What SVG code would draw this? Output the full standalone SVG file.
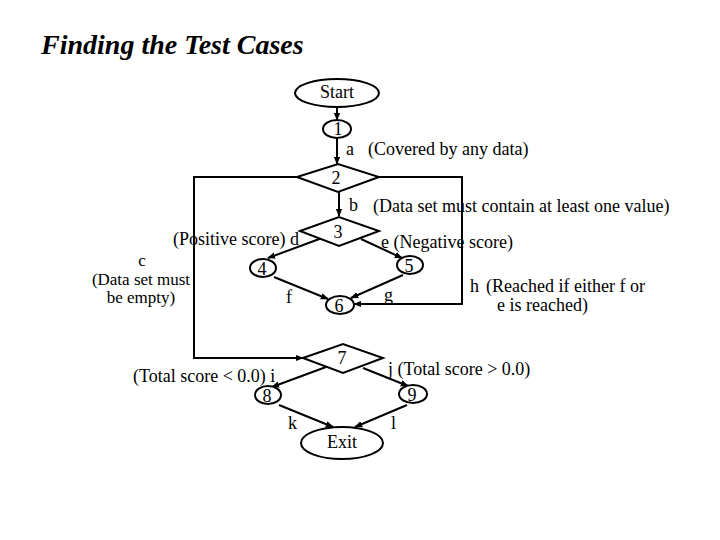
<svg xmlns="http://www.w3.org/2000/svg" width="720" height="540" viewBox="0 0 720 540">
<defs>
<marker id="ah" viewBox="0 0 10 10" refX="9" refY="5" markerWidth="4" markerHeight="4" orient="auto" markerUnits="strokeWidth">
<path d="M0,1 L10,5 L0,9 z" fill="#000"/>
</marker>
<style>
.n{fill:#fff;stroke:#000;stroke-width:2}
.e{fill:none;stroke:#000;stroke-width:2;marker-end:url(#ah)}
text{font-family:"Liberation Serif","Times New Roman",serif;font-size:18px;fill:#000}
.c{text-anchor:middle}
.s{font-size:17px}
</style>
</defs>
<rect width="720" height="540" fill="#fff"/>
<text x="41" y="54" style="font-size:28px;font-weight:bold;font-style:italic">Finding the Test Cases</text>
<g id="connectors">
<path class="e" d="M337,107 L337,120"/>
<path class="e" d="M337,138 L337,164"/>
<path class="e" d="M297,177 L194,177 L194,358 L303,358"/>
<path class="e" d="M379,177 L462,177 L462,304 L354,304"/>
<path class="e" d="M339,192 L339,216"/>
<path class="e" d="M322,238 L268,258"/>
<path class="e" d="M361,239 L402,258"/>
<path class="e" d="M274,277 L328,299"/>
<path class="e" d="M403,275 L351,298"/>
<path class="e" d="M326,367 L272,387"/>
<path class="e" d="M363,368 L408,386"/>
<path class="e" d="M279,405 L333,427"/>
<path class="e" d="M407,405 L355,427"/>
</g>
<g id="start"><ellipse class="n" cx="337" cy="93" rx="42" ry="14"/><text class="c" x="337" y="98">Start</text></g>
<g id="n1"><ellipse class="n" cx="337" cy="129" rx="14" ry="9"/><text class="c" x="338" y="135">1</text></g>
<g id="n2"><path class="n" d="M297,177 L338,164 L379,177 L338,192 z"/><text class="c" x="336" y="184">2</text></g>
<g id="n3"><path class="n" d="M300,231 L339,217 L379,231 L339,246 z"/><text class="c" x="338" y="238">3</text></g>
<g id="n4"><ellipse class="n" cx="263" cy="268" rx="13" ry="9"/><text class="c" x="262" y="275">4</text></g>
<g id="n5"><ellipse class="n" cx="410" cy="265" rx="13" ry="9"/><text class="c" x="409" y="272">5</text></g>
<g id="n6"><ellipse class="n" cx="340" cy="305" rx="14" ry="9"/><text class="c" x="339" y="312">6</text></g>
<g id="n7"><path class="n" d="M303,358 L343,344 L383,358 L343,373 z"/><text class="c" x="342" y="364">7</text></g>
<g id="n8"><ellipse class="n" cx="268" cy="395" rx="13" ry="9"/><text class="c" x="267" y="402">8</text></g>
<g id="n9"><ellipse class="n" cx="413" cy="394" rx="14" ry="9"/><text class="c" x="412" y="401">9</text></g>
<g id="exit"><ellipse class="n" cx="342" cy="443" rx="41" ry="16"/><text class="c" x="342" y="448">Exit</text></g>
<g id="labels">
<text x="346" y="155">a</text>
<text x="368" y="155">(Covered by any data)</text>
<text x="349" y="211">b</text>
<text x="373" y="212">(Data set must contain at least one value)</text>
<text x="173" y="245">(Positive score)  d</text>
<text x="381" y="248">e (Negative score)</text>
<text class="c s" x="142" y="266">c</text>
<text class="c s" x="141" y="285">(Data set must</text>
<text class="c s" x="141" y="303">be empty)</text>
<text x="286" y="303">f</text>
<text x="384" y="301">g</text>
<text x="470" y="292">h</text>
<text x="486" y="292">(Reached if either f or</text>
<text x="497" y="311">e is reached)</text>
<text x="133" y="382">(Total score &lt; 0.0)  i</text>
<text x="388" y="375">j (Total score &gt; 0.0)</text>
<text x="288" y="429">k</text>
<text x="391" y="429">l</text>
</g>
</svg>
